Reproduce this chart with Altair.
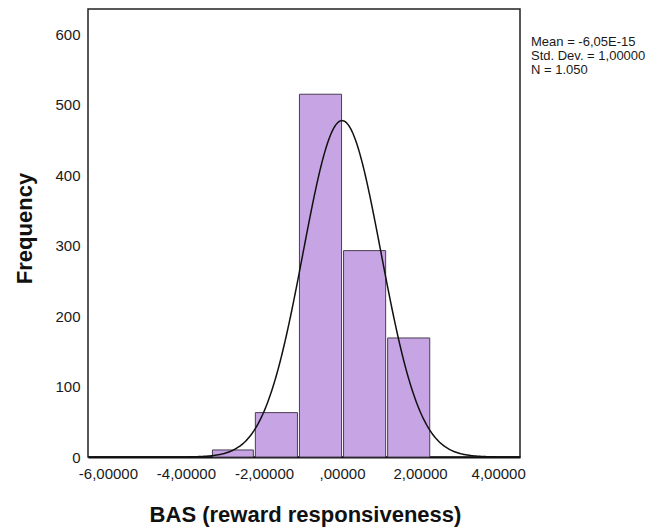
import altair as alt
import pandas as pd

# Histogram bins
bin_start = [-3.36, -2.26, -1.13, 0.0, 1.13]
bin_end = [-2.26, -1.13, 0.0, 1.13, 2.26]
counts = [10, 63, 515, 293, 169]

# Summary statistics shown on the chart
mean = -6.05e-15
sd = 1.0
n = 1050
bin_width = 1.14

x_ticks = [-6, -4, -2, 0, 2, 4]
y_ticks = [0, 100, 200, 300, 400, 500, 600]
stats_lines = ["Mean = -6,05E-15", "Std. Dev. = 1,00000", "N = 1.050"]

FONT = "Liberation Sans"

bars_df = pd.DataFrame({"start": bin_start, "end": bin_end, "count": counts})

xs = alt.Scale(domain=[-6.51, 4.56], nice=False, zero=False)
ys = alt.Scale(domain=[0, 636], nice=False, zero=True)

x_axis = alt.Axis(
    values=x_ticks,
    ticks=False,
    grid=False,
    labelExpr="datum.value == 0 ? ',00000' : (datum.value < 0 ? '-' : '') + format(abs(datum.value), 'd') + ',00000'",
    labelFontSize=15,
    labelFont=FONT,
    labelColor="#1a1a1a",
    labelPadding=9,
    domainColor="#111111",
    domainWidth=2,
    title="BAS (reward responsiveness)",
    titleFont=FONT,
    titleFontSize=22,
    titleFontWeight="bold",
    titleColor="#111111",
    titleX=217,
    titleY=64,
    titleAlign="center",
    titleBaseline="alphabetic",
)

y_axis = alt.Axis(
    values=y_ticks,
    ticks=False,
    grid=False,
    domain=False,
    labelFontSize=15,
    labelFont=FONT,
    labelColor="#1a1a1a",
    labelPadding=8,
    title="Frequency",
    titleFont=FONT,
    titleFontSize=22,
    titleFontWeight="bold",
    titleColor="#111111",
    titleX=-64,
    titleY=219,
    titleAngle=270,
    titleAlign="center",
    titleBaseline="middle",
)

bars = alt.Chart(bars_df).mark_bar(
    fill="#c7a5e4", stroke="#4a3d52", strokeWidth=1, binSpacing=2, opacity=1
).encode(
    x=alt.X("start:Q", bin="binned", scale=xs, axis=x_axis),
    x2="end:Q",
    y=alt.Y("count:Q", scale=ys, axis=y_axis),
)

curve = alt.Chart(alt.sequence(-6.5, 4.56, 0.02, as_="v")).transform_calculate(
    dens=f"{n} * {bin_width} * exp(-0.5 * pow((datum.v - ({mean})) / {sd}, 2)) / ({sd} * sqrt(2 * PI))"
).mark_line(color="#111111", strokeWidth=1.5).encode(
    x=alt.X("v:Q", scale=xs),
    y=alt.Y("dens:Q", scale=ys),
)

stats = alt.Chart(pd.DataFrame({"a": [0]})).mark_text(
    text=stats_lines,
    lineHeight=14,
    align="left",
    baseline="top",
    font=FONT,
    fontSize=13,
    color="#1a1a1a",
).encode(x=alt.value(443), y=alt.value(27))

chart = alt.layer(bars, curve, stats).properties(
    width=432,
    height=448,
    autosize=alt.AutoSizeParams(type="none"),
    padding={"left": 80, "top": 1, "right": 137, "bottom": 71},
).configure(
    background="white",
    view=alt.ViewConfig(stroke="#222222", strokeWidth=1.5),
)

chart.save("out.html", embed_options={"renderer": "svg", "actions": False})
